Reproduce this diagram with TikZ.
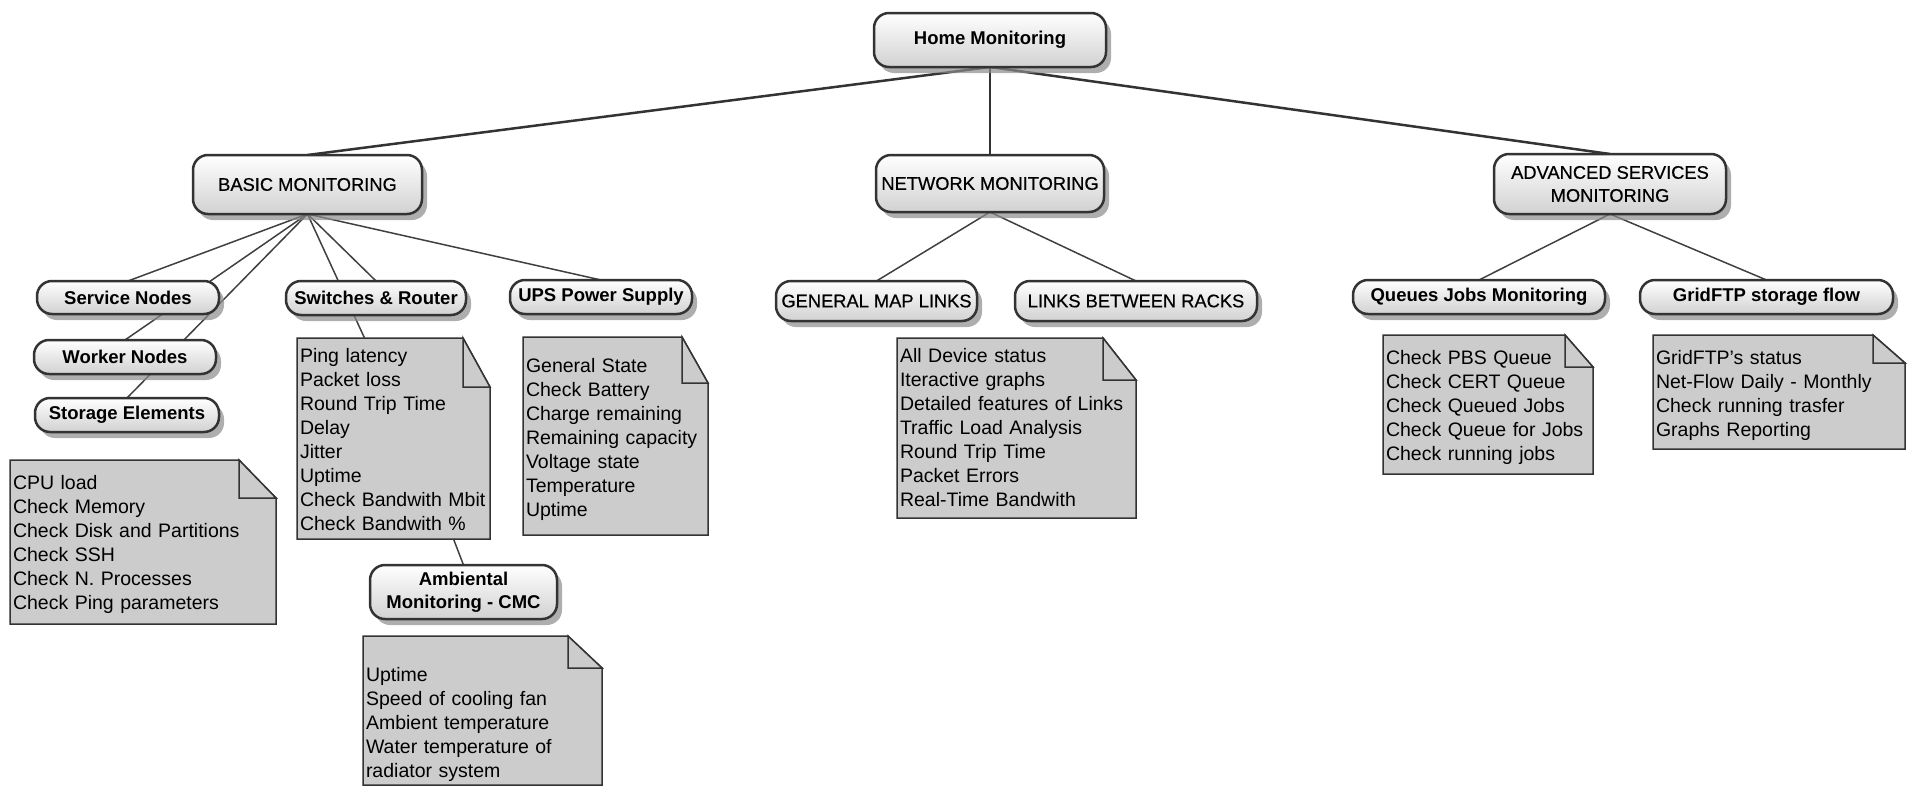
\documentclass[tikz,border=0pt]{standalone}
\usepackage{fontspec}
\setmainfont{Liberation Sans}
\newfontface\heavyface[FakeBold=0.5]{Liberation Sans}
\usetikzlibrary{shadows,backgrounds}

\tikzset{
  topic/.style={draw=black!80, line width=2.5pt, rounded corners=15pt, top color=white, bottom color=black!18,
    drop shadow={shadow xshift=5pt, shadow yshift=-6pt, fill=black!45, opacity=0.7},
    inner sep=0pt, outer sep=0pt, align=center, font=\fontsize{18.3}{23}\heavyface},
  boldtopic/.style={topic, font=\fontsize{18.5}{23}\selectfont\bfseries},
  note/.style={anchor=north west, inner xsep=3pt, inner ysep=0pt, outer sep=0pt, align=left,
    font=\fontsize{19.5}{24}\selectfont},
  notebox/.style={draw=black!80, line width=1.5pt, fill=black!20},
  mainlink/.style={draw=black!80, line width=2.5pt},
  link/.style={draw=black!75, line width=1.5pt}
}

\begin{document}
\begin{tikzpicture}[x=1pt, y=-1pt]
\useasboundingbox (0,0) rectangle (1910,787);

% topics
\node[boldtopic, minimum width=232, minimum height=54] (home) at (990,40) {Home Monitoring};
\node[topic, minimum width=229, minimum height=59] (basic) at (307.5,184.5) {BASIC MONITORING};
\node[topic, minimum width=228, minimum height=57] (network) at (990,183.5) {NETWORK MONITORING};
\node[topic, minimum width=232, minimum height=60] (adv) at (1610,184) {ADVANCED SERVICES\\MONITORING};

\node[boldtopic, minimum width=182, minimum height=33] (service) at (128,297.5) {Service Nodes};
\node[boldtopic, minimum width=182, minimum height=34] (worker) at (125,357) {Worker Nodes};
\node[boldtopic, minimum width=184, minimum height=34] (storage) at (127,415) {Storage Elements};
\node[boldtopic, minimum width=180, minimum height=34] (switches) at (376,298) {Switches \& Router};
\node[boldtopic, minimum width=182, minimum height=34] (ups) at (601,297) {UPS Power Supply};
\node[boldtopic, minimum width=187, minimum height=54] (ambiental) at (463.5,592) {Ambiental\\Monitoring - CMC};

\node[topic, minimum width=201, minimum height=40] (general) at (876.5,301) {GENERAL MAP LINKS};
\node[topic, minimum width=242, minimum height=40] (links) at (1136,301) {LINKS BETWEEN RACKS};
\node[boldtopic, minimum width=252, minimum height=34] (queues) at (1479,297) {Queues Jobs Monitoring};
\node[boldtopic, minimum width=253, minimum height=34] (gridftp) at (1766.5,297) {GridFTP storage flow};

% notes
\node[note, text width=260, text height=29, text depth=135] (cpu) at (10,460)
  {CPU load\\Check Memory\\Check Disk and Partitions\\Check SSH\\Check N. Processes\\Check Ping parameters};
\node[note, text width=187, text height=24, text depth=177] (swnote) at (297,338)
  {Ping latency\\Packet loss\\Round Trip Time\\Delay\\Jitter\\Uptime\\Check Bandwith Mbit\\Check Bandwith \%};
\node[note, text width=179, text height=35, text depth=163] (upsnote) at (523,337)
  {General State\\Check Battery\\Charge remaining\\Remaining capacity\\Voltage state\\Temperature\\Uptime};
\node[note, text width=233, text height=45, text depth=104] (ambnote) at (363,636)
  {Uptime\\Speed of cooling fan\\Ambient temperature\\Water temperature of\\radiator system};
\node[note, text width=233, text height=24, text depth=156] (netnote) at (897,338)
  {All Device status\\Iteractive graphs\\Detailed features of Links\\Traffic Load Analysis\\Round Trip Time\\Packet Errors\\Real-Time Bandwith};
\node[note, text width=204, text height=29, text depth=110] (qnote) at (1383,335)
  {Check PBS Queue\\Check CERT Queue\\Check Queued Jobs\\Check Queue for Jobs\\Check running jobs};
\node[note, text width=246, text height=29, text depth=85] (gnote) at (1653,335)
  {GridFTP's status\\Net-Flow Daily - Monthly\\Check running trasfer\\Graphs Reporting};

\begin{scope}[on background layer]
\foreach \n/\fw/\fh in {cpu/37/38, swnote/27/49, upsnote/26/46, ambnote/34/32, netnote/33/42, qnote/28/32, gnote/32/28} {
  \draw[notebox] (\n.north west) -- ([xshift=-\fw*1pt]\n.north east) -- ([yshift=-\fh*1pt]\n.north east)
    -- (\n.south east) -- (\n.south west) -- cycle;
  \draw[notebox] ([xshift=-\fw*1pt]\n.north east) |- ([yshift=-\fh*1pt]\n.north east) -- cycle;
}

\draw[mainlink] (home.south) -- (basic.north);
\draw[mainlink] (home.south) -- (network.north);
\draw[mainlink] (home.south) -- (adv.north);

\foreach \leaf in {service,worker,storage,switches,ups}
  \draw[link] (basic.south) -- (\leaf.north);
\draw[link] (basic.south) -- ([xshift=-29pt]swnote.north);
\draw[link] ([xshift=60pt]swnote.south) -- (ambiental.north);

\draw[link] (network.south) -- (general.north);
\draw[link] (network.south) -- (links.north);
\draw[link] (adv.south) -- (queues.north);
\draw[link] (adv.south) -- (gridftp.north);
\end{scope}
\end{tikzpicture}
\end{document}
